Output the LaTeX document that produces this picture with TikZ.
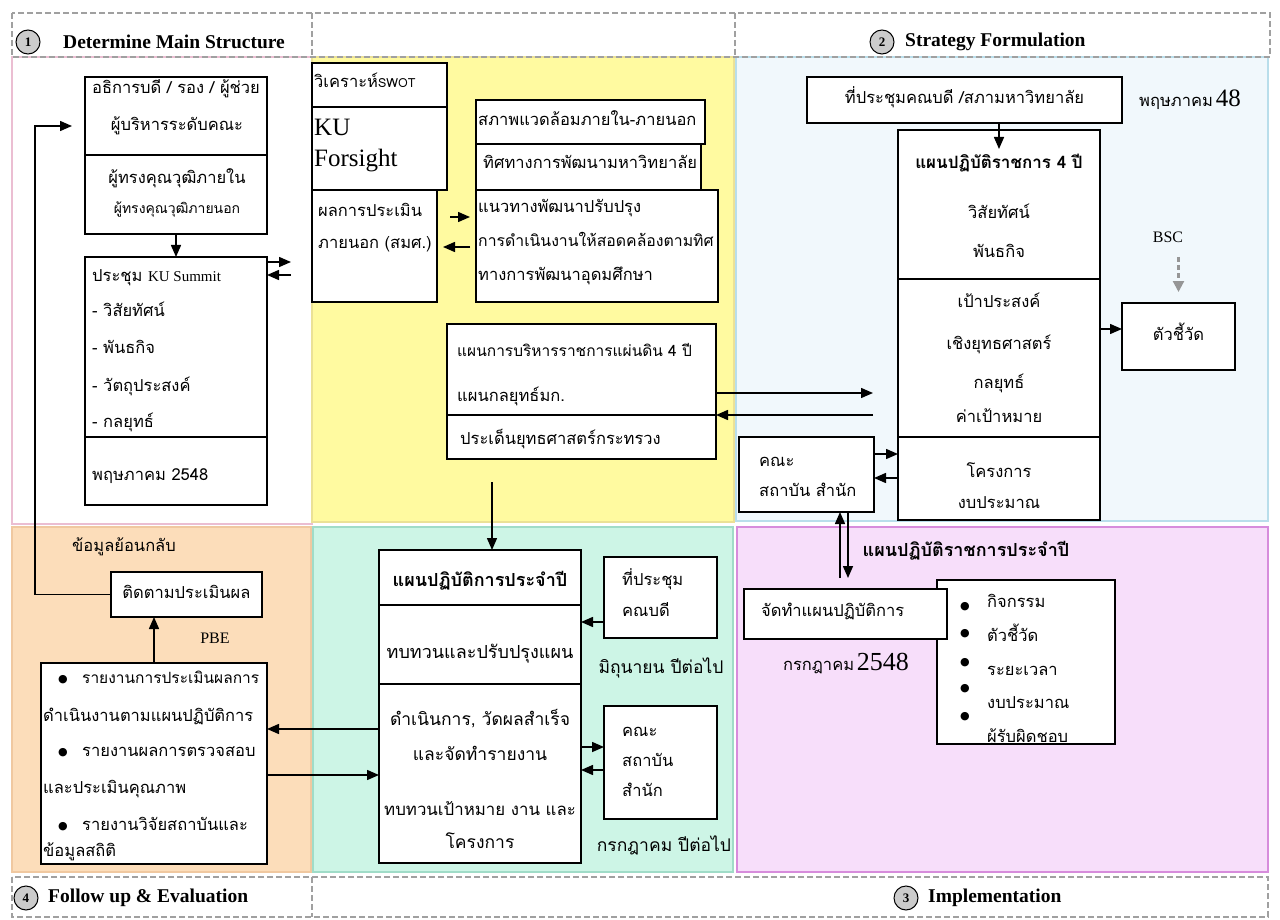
\documentclass[tikz,border=0pt]{standalone}
\usepackage{fontspec}
\setmainfont{Liberation Serif}
\newfontfamily\thfont[Script=Thai]{Loma}
\newfontfamily\dvfont{DejaVu Sans}
\usetikzlibrary{arrows.meta,calc}
\definecolor{yel}{RGB}{255,250,160}
\definecolor{yelline}{RGB}{235,225,150}
\definecolor{azure}{RGB}{241,248,252}
\definecolor{blueline}{RGB}{185,222,235}
\definecolor{pinkline}{RGB}{235,190,210}
\definecolor{orf}{RGB}{252,221,186}
\definecolor{orline}{RGB}{240,200,160}
\definecolor{mint}{RGB}{205,245,230}
\definecolor{mintline}{RGB}{160,220,200}
\definecolor{pinkf}{RGB}{247,222,250}
\definecolor{magline}{RGB}{215,140,220}
\definecolor{hdrgray}{RGB}{160,160,160}
\definecolor{arrgray}{RGB}{150,150,150}
\tikzset{
 bx/.style={draw, line width=1.4pt, fill=white, inner sep=0pt, outer sep=0pt, anchor=north west},
 dv/.style={line width=1.4pt},
 arr/.style={line width=1.5pt, -{Triangle[length=12pt,width=10pt]}},
 tt/.style={font=\thfont\fontsize{16.5}{19}\selectfont, inner sep=0pt, text height=11.5pt, text depth=3.8pt},
 tl/.style={tt, anchor=west},
 tb/.style={tt, font=\thfont\bfseries\fontsize{17}{19}\selectfont},
 hdr/.style={draw=hdrgray, line width=2pt, dash pattern=on 6pt off 3pt},
 circ/.style={circle, draw, fill=gray!40, line width=1pt, minimum size=24pt, inner sep=0pt, font=\bfseries\fontsize{13}{13}\selectfont},
 ht/.style={font=\bfseries\fontsize{19.5}{21}\selectfont, anchor=west, inner sep=0pt},
 bul/.style={inner sep=0pt, font=\dvfont\fontsize{11}{11}\selectfont},
 lat/.style={inner sep=0pt, anchor=west, text height=18pt, text depth=2pt, font=\fontsize{25}{25}\selectfont},
}
\newcommand\bx[5]{\node[bx, minimum width={(#4-#2)*1pt}, minimum height={(#5-#3)*1pt}] (#1) at (#2,#3) {};}
\newcommand\smaller[1]{\fontsize{#1}{19}\selectfont}
\begin{document}
\begin{tikzpicture}[x=1pt,y=-1pt]
\useasboundingbox (0,0) rectangle (1280,920);
\fill[white] (0,0) rectangle (1280,920);
% regions
\draw[pinkline, fill=white, line width=1.2pt] (12,57) rectangle (312,524);
\draw[yelline, fill=yel, line width=1.2pt] (312,57) rectangle (734,522);
\draw[blueline, fill=azure, line width=1.2pt] (736,57) rectangle (1268,521);
\draw[orline, fill=orf, line width=1.2pt] (12,527) rectangle (311,872);
\draw[mintline, fill=mint, line width=1.2pt] (313,527) rectangle (733,872);
\draw[magline, fill=pinkf, line width=1.2pt] (737,527) rectangle (1268,872);
% headers
\draw[hdr] (12,13) rectangle (1270,57);
\draw[hdr] (312,13) -- (312,57);
\draw[hdr] (735,13) -- (735,57);
\draw[hdr] (12,877) rectangle (1268,917);
\draw[hdr] (312,877) -- (312,917);
\node[circ] (c1) at (28,42) {1};
\node[ht] (h1) at (63,42) {Determine Main Structure};
\node[circ] (c2) at (882,42) {2};
\node[ht] (h2) at (905,42) {Strategy Formulation};
\node[circ] (c4) at (26,898) {4};
\node[ht] (h4) at (48,898) {Follow up \& Evaluation};
\node[circ] (c3) at (906,898) {3};
\node[ht] (h3) at (928,898) {Implementation};
% boxes
\bx{A}{85}{77}{267}{234}
\bx{B}{85}{257}{267}{505}
\bx{swotA}{312}{63}{447}{107}
\bx{swotB}{312}{107}{447}{190}
\bx{swotC}{312}{190}{437}{302}
\bx{envA}{476}{100}{705}{144}
\bx{envB}{476}{144}{701}{190}
\bx{envC}{476}{190}{718}{302}
\bx{plan}{447}{324}{716}{459}
\bx{meet}{807}{77}{1122}{123}
\bx{big}{898}{130}{1100}{520}
\bx{kpi}{1122}{303}{1235}{370}
\bx{facA}{739}{437}{874}{512}
\bx{bull}{937}{580}{1115}{744}
\bx{act}{744}{589}{947}{639}
\bx{ann}{379}{550}{581}{863}
\bx{deans}{604}{557}{717}{638}
\bx{facB}{604}{706}{717}{819}
\bx{follow}{111}{572}{262}{617}
\bx{rep}{41}{663}{267}{864}
% dividers
\draw[dv] ($(A.north west)+(0,78)$) -- ($(A.north east)+(0,78)$);
\draw[dv] ($(B.north west)+(0,180)$) -- ($(B.north east)+(0,180)$);
\draw[dv] ($(plan.north west)+(0,91)$) -- ($(plan.north east)+(0,91)$);
\draw[dv] ($(big.north west)+(0,149)$) -- ($(big.north east)+(0,149)$);
\draw[dv] ($(big.north west)+(0,307)$) -- ($(big.north east)+(0,307)$);
\draw[dv] ($(ann.north west)+(0,55)$) -- ($(ann.north east)+(0,55)$);
\draw[dv] ($(ann.north west)+(0,134)$) -- ($(ann.north east)+(0,134)$);
% texts: box A
\node[tt] (tA1) at (176,90) {อธิการบดี / รอง / ผู้ช่วย};
\node[tt] (tA2) at (177,127) {ผู้บริหารระดับคณะ};
\node[tt] (tA3) at (177,180) {ผู้ทรงคุณวุฒิภายใน};
\node[tt, font=\thfont\fontsize{14}{16}\selectfont] (tA4) at (177,210) {ผู้ทรงคุณวุฒิภายนอก};
% box B
\node[tl] (tB1) at (92,278) {ประชุม {\rmfamily\fontsize{15}{16}\selectfont KU Summit}};
\node[tl] (tB2) at (92,313) {- วิสัยทัศน์};
\node[tl] (tB3) at (92,350) {- พันธกิจ};
\node[tl] (tB4) at (92,388) {- วัตถุประสงค์};
\node[tl] (tB5) at (92,424) {- กลยุทธ์};
\node[tl] (tB6) at (92,477) {พฤษภาคม 2548};
% swot column
\node[tl] (tS1) at (314,84) {วิเคราะห์{\smaller{12.5}SWOT}};
\node[lat] (tS2) at (314,128) {KU};
\node[lat] (tS3) at (314,159) {Forsight};
\node[tl] (tS4) at (318,213) {ผลการประเมิน};
\node[tl] (tS5) at (318,245) {ภายนอก (สมศ.)};
\node[tl] (tE1) at (478,122) {สภาพแวดล้อมภายใน-ภายนอก};
\node[tl] (tE2) at (483,165) {ทิศทางการพัฒนามหาวิทยาลัย};
\node[tl] (tE3) at (478,209) {แนวทางพัฒนาปรับปรุง};
\node[tl] (tE4) at (478,243) {\smaller{15.8}การดำเนินงานให้สอดคล้องตามทิศ};
\node[tl] (tE5) at (478,277) {ทางการพัฒนาอุดมศึกษา};
\node[tl] (tP1) at (457,353) {\smaller{15.5}แผนการบริหารราชการแผ่นดิน 4 ปี};
\node[tl] (tP2) at (457,398) {แผนกลยุทธ์มก.};
\node[tl] (tP3) at (460,441) {ประเด็นยุทธศาสตร์กระทรวง};
% top right
\node[tt] (tM) at (meet.center) {ที่ประชุมคณบดี /สภามหาวิทยาลัย};
\node[tl] (tMay) at (1139,103) {พฤษภาคม\,{\rmfamily\fontsize{25}{25}\selectfont 48}};
\node[tb] (tG0) at (999,165) {แผนปฏิบัติราชการ 4 ปี};
\node[tt] (tG1) at (999,215) {วิสัยทัศน์};
\node[tt] (tG2) at (999,254) {พันธกิจ};
\node[tt] (tG3) at (999,304) {เป้าประสงค์};
\node[tt] (tG4) at (999,346) {เชิงยุทธศาสตร์};
\node[tt] (tG5) at (999,385) {กลยุทธ์};
\node[tt] (tG6) at (999,419) {ค่าเป้าหมาย};
\node[tt] (tG7) at (999,474) {โครงการ};
\node[tt] (tG8) at (999,505) {งบประมาณ};
\node[inner sep=0pt, font=\fontsize{16}{16}\selectfont] (bsc) at (1168,237) {BSC};
\node[tt] (tK) at (kpi.center) {ตัวชี้วัด};
\node[tl] (tF1) at (759,463) {คณะ};
\node[tl] (tF2) at (759,493) {สถาบัน สำนัก};
% pink region
\node[tb] (tI0) at (966,553) {\smaller{18}แผนปฏิบัติราชการประจำปี};
\node[tl] (tI1) at (761,613) {จัดทำแผนปฏิบัติการ};
\node[tt] (tI2) at (846,667) {กรกฎาคม\,{\rmfamily\fontsize{26}{26}\selectfont 2548}};
\node[bul] (b1) at (965,607) {●};
\node[bul] (b2) at (965,634) {●};
\node[bul] (b3) at (965,663) {●};
\node[bul] (b4) at (965,689) {●};
\node[bul] (b5) at (965,717) {●};
\node[tl] (tL1) at (987,604) {กิจกรรม};
\node[tl] (tL2) at (987,638) {ตัวชี้วัด};
\node[tl] (tL3) at (987,672) {ระยะเวลา};
\node[tl] (tL4) at (987,705) {งบประมาณ};
\begin{scope}
\clip (bull.north west) rectangle (bull.south east);
\node[tl] (tL5) at (987,739) {ผู้รับผิดชอบ};
\end{scope}
% mint region
\node[tb] (tN0) at (480,583) {\smaller{18}แผนปฏิบัติการประจำปี};
\node[tt] (tN1) at (480,655) {\smaller{18}ทบทวนและปรับปรุงแผน};
\node[tt] (tN2) at (480,722) {\smaller{17.5}ดำเนินการ, วัดผลสำเร็จ};
\node[tt] (tN3) at (480,757) {\smaller{17.5}และจัดทำรายงาน};
\node[tt] (tN4) at (480,812) {\smaller{16.8}ทบทวนเป้าหมาย งาน และ};
\node[tt] (tN5) at (480,845) {\smaller{17.5}โครงการ};
\node[tl] (tD1) at (622,582) {ที่ประชุม};
\node[tl] (tD2) at (622,613) {คณบดี};
\node[tt] (tJun) at (661,670) {\smaller{17.5}มิถุนายน ปีต่อไป};
\node[tl] (tC1) at (622,733) {คณะ};
\node[tl] (tC2) at (622,763) {สถาบัน};
\node[tl] (tC3) at (622,793) {สำนัก};
\node[tt] (tJul) at (664,848) {\smaller{17.5}กรกฎาคม ปีต่อไป};
% orange region
\node[tt] (tFb) at (124,548) {ข้อมูลย้อนกลับ};
\node[tt] (tFo) at (follow.center) {ติดตามประเมินผล};
\node[inner sep=0pt, font=\fontsize{16}{16}\selectfont] (pbe) at (215,638) {PBE};
\node[bul] (r1) at (63,680) {●};
\node[tl] (tR1) at (82,680) {\smaller{15.5}รายงานการประเมินผลการ};
\node[tl] (tR2) at (43,718) {ดำเนินงานตามแผนปฏิบัติการ};
\node[bul] (r2) at (63,753) {●};
\node[tl] (tR3) at (82,753) {รายงานผลการตรวจสอบ};
\node[tl] (tR4) at (43,790) {และประเมินคุณภาพ};
\node[bul] (r3) at (63,827) {●};
\node[tl] (tR5) at (82,827) {รายงานวิจัยสถาบันและ};
\node[tl] (tR6) at (43,853) {ข้อมูลสถิติ};
% arrows
\draw[arr] (A.south) -- (B.north);
\draw[arr] ($(B.north east)+(0,5)$) -- ($(B.north east)+(24,5)$);
\draw[arr] ($(B.north east)+(24,18)$) -- ($(B.north east)+(0,18)$);
\draw[arr] ($(swotC.north east)+(13,27)$) -- ($(envC.north west)+(-6,27)$);
\draw[arr] ($(envC.north west)+(-6,57)$) -- ($(swotC.north east)+(6,57)$);
\draw[arr] ($(plan.north east)+(0,69)$) -- ($(big.north west)+(-25,263)$);
\draw[arr] ($(big.north west)+(-25,285)$) -- ($(plan.north east)+(0,91)$);
\draw[arr] (meet.south -| big.north) -- ($(big.north)+(0,19)$);
\draw[arr] ($(big.north east)+(0,199)$) -- ($(kpi.north west)+(0,26)$);
\draw[line width=2.2pt, arrgray, dash pattern=on 5pt off 3pt, -{Triangle[length=11pt,width=11pt]}] ($(kpi.north)+(0,-46)$) -- ($(kpi.north)+(0,-11)$);
\draw[arr] ($(facA.north east)+(0,17)$) -- ($(big.north west)+(0,324)$);
\draw[arr] ($(big.north west)+(0,348)$) -- ($(facA.north east)+(0,41)$);
\draw[arr] ($(facA.south west)+(101,66)$) -- ($(facA.south west)+(101,0)$);
\draw[arr] ($(facA.south west)+(109,0)$) -- ($(facA.south west)+(109,66)$);
\draw[arr] ($(ann.north west)+(113,-68)$) -- ($(ann.north west)+(113,0)$);
\draw[arr] ($(deans.north west)+(0,65)$) -- ($(ann.north east)+(0,72)$);
\draw[arr] ($(ann.north east)+(0,197)$) -- ($(facB.north west)+(0,41)$);
\draw[arr] ($(facB.north west)+(0,64)$) -- ($(ann.north east)+(0,220)$);
\draw[arr] ($(ann.north west)+(0,179)$) -- ($(rep.north east)+(0,66)$);
\draw[arr] ($(rep.north east)+(0,112)$) -- ($(ann.north west)+(0,225)$);
\draw[arr] ($(rep.north west)+(113,0)$) -- ($(follow.south west)+(43,0)$);
\draw[arr] (follow.west) -- ($(follow.west)+(-76,0)$) -- ($(A.north west)+(-50,49)$) -- ($(A.north west)+(-13,49)$);
\end{tikzpicture}
\end{document}
